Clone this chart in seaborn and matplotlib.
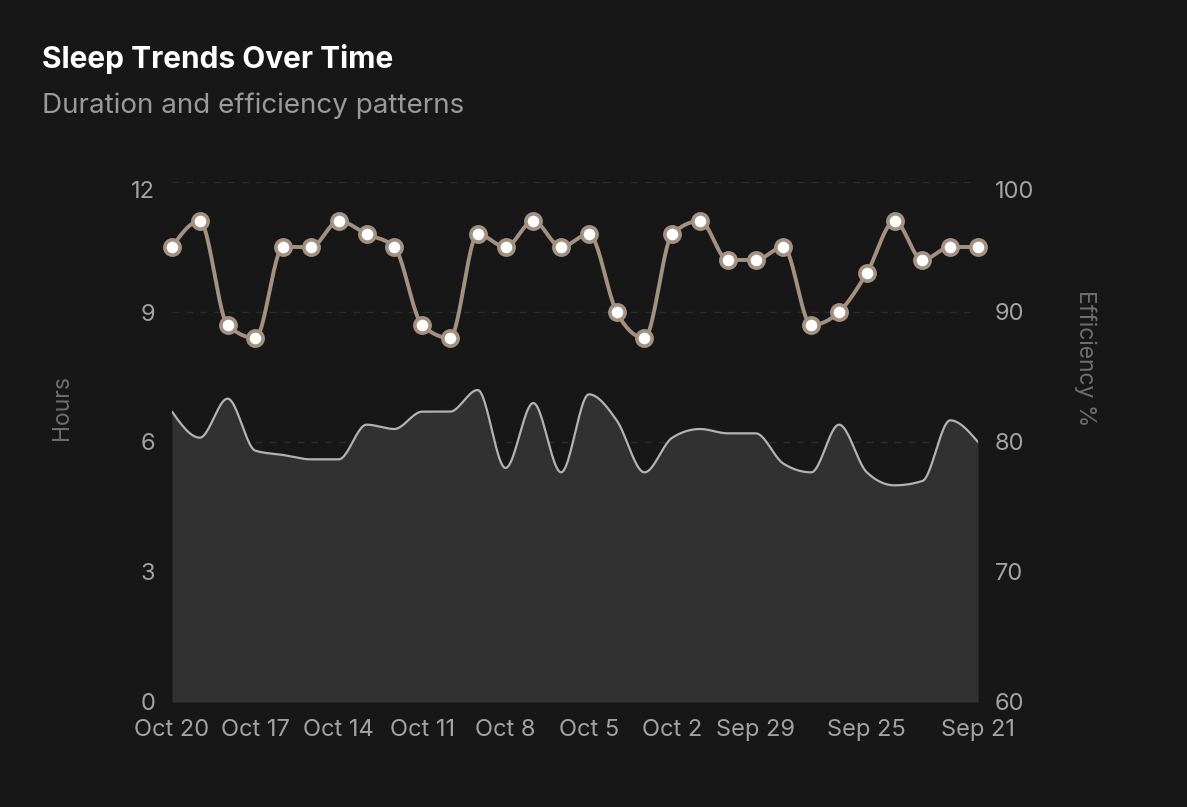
import numpy as np
import pandas as pd
import matplotlib
matplotlib.use("Agg")
import matplotlib.pyplot as plt
import matplotlib.transforms as mtrans
import seaborn as sns

# ---- data ----
dates = ["Oct 20", "Oct 19", "Oct 18", "Oct 17", "Oct 16", "Oct 15", "Oct 14", "Oct 13",
         "Oct 12", "Oct 11", "Oct 10", "Oct 9", "Oct 8", "Oct 7", "Oct 6", "Oct 5",
         "Oct 4", "Oct 3", "Oct 2", "Oct 1", "Sep 30", "Sep 29", "Sep 28", "Sep 27",
         "Sep 26", "Sep 25", "Sep 24", "Sep 23", "Sep 22", "Sep 21"]
hours = [6.7, 6.1, 7.0, 5.8, 5.7, 5.6, 5.6, 6.4, 6.3, 6.7,
         6.7, 7.2, 5.4, 6.9, 5.3, 7.1, 6.5, 5.3, 6.1, 6.3,
         6.2, 6.2, 5.5, 5.3, 6.4, 5.3, 5.0, 5.1, 6.5, 6.0]
efficiency = [95, 97, 89, 88, 95, 95, 97, 96, 95, 89,
              88, 96, 95, 97, 95, 96, 90, 88, 96, 97,
              94, 94, 95, 89, 90, 93, 97, 94, 95, 95]
tick_labels = ["Oct 20", "Oct 17", "Oct 14", "Oct 11", "Oct 8", "Oct 5",
               "Oct 2", "Sep 29", "Sep 25", "Sep 21"]
hour_ticks = [0, 3, 6, 9, 12]
eff_ticks = [60, 70, 80, 90, 100]


def monotone_curve(y, n=24):
    """Render-only smoothing path (d3 curveMonotoneX style) through the points."""
    y = np.asarray(y, float)
    x = np.arange(len(y), dtype=float)
    s = np.diff(y)
    m = np.zeros_like(y)
    for i in range(1, len(y) - 1):
        s0, s1 = s[i - 1], s[i]
        p = (s0 + s1) / 2
        m[i] = (np.sign(s0) + np.sign(s1)) * min(abs(s0), abs(s1), 0.5 * abs(p))
    m[0] = (3 * s[0] - m[1]) / 2
    m[-1] = (3 * s[-1] - m[-2]) / 2
    xs, ys = [], []
    for i in range(len(y) - 1):
        t = np.linspace(0, 1, n, endpoint=False)
        h00 = 2 * t**3 - 3 * t**2 + 1
        h10 = t**3 - 2 * t**2 + t
        h01 = -2 * t**3 + 3 * t**2
        h11 = t**3 - t**2
        xs.append(x[i] + t)
        ys.append(h00 * y[i] + h10 * m[i] + h01 * y[i + 1] + h11 * m[i + 1])
    xs.append([x[-1]])
    ys.append([y[-1]])
    return np.concatenate(xs), np.concatenate(ys)


BG = "#171717"
TICK = "#a3a3a3"
sns.set_theme(style="dark", rc={
    "figure.facecolor": BG, "axes.facecolor": BG, "savefig.facecolor": BG,
    "axes.edgecolor": BG, "text.color": TICK,
    "xtick.color": TICK, "ytick.color": TICK,
})
plt.rcParams["font.family"] = ["Inter", "DejaVu Sans"]

fig = plt.figure(figsize=(11.87, 8.07), dpi=100)
W, H = 1187, 807
L, R, T, B = 172, 978, 182, 702
ax = fig.add_axes([L / W, 1 - B / H, (R - L) / W, (B - T) / H])
ax2 = ax.twinx()

x = np.arange(len(dates))
hx, hy = monotone_curve(hours)
hdf = pd.DataFrame({"x": hx, "hours": hy})
ax.fill_between(hdf["x"], 0, hdf["hours"], color="#313131", linewidth=0, zorder=2)
sns.lineplot(data=hdf, x="x", y="hours", ax=ax, color="#b3b3b3", linewidth=1.6,
             zorder=3, estimator=None, sort=False)

ex, ey = monotone_curve(efficiency)
edf = pd.DataFrame({"x": ex, "eff": ey})
sns.lineplot(data=edf, x="x", y="eff", ax=ax2, color="#a39282", linewidth=2.8,
             zorder=4, estimator=None, sort=False)
pdf = pd.DataFrame({"x": x, "eff": efficiency})
sns.scatterplot(data=pdf, x="x", y="eff", ax=ax2, s=120, color="white",
                edgecolor="#a39282", linewidth=2.6, zorder=5, clip_on=False)

ax.set_xlim(0, len(dates) - 1)
ax.set_ylim(0, 12)
ax2.set_ylim(60, 100)
ax.set_yticks(hour_ticks)
ax2.set_yticks(eff_ticks)
ax.grid(axis="y", color="#2c2c2c", linestyle=(0, (5, 5)), linewidth=1, zorder=0)
ax.grid(axis="x", visible=False)
ax2.grid(False)

tick_pos = [dates.index(t) for t in tick_labels]
ax.set_xticks(tick_pos)
ax.set_xticklabels(tick_labels)
for a in (ax, ax2):
    a.tick_params(axis="both", length=0, labelsize=17, colors=TICK)
    for sp in a.spines.values():
        sp.set_visible(False)
ax.tick_params(axis="y", pad=12)
ax2.tick_params(axis="y", pad=12)
ax.tick_params(axis="x", pad=12)

# top tick labels sit slightly below their gridline
for a in (ax, ax2):
    lbl = a.get_yticklabels()[-1]
    lbl.set_transform(lbl.get_transform() + mtrans.ScaledTranslation(0, -8 / 100, fig.dpi_scale_trans))

ax.set_xlabel("")
ax.set_ylabel("")
ax2.set_ylabel("")
fig.text(62 / W, 1 - 408 / H, "Hours", color="#6e6e6e", fontsize=16.5,
         rotation=90, ha="center", va="center")
fig.text(1085 / W, 1 - 358 / H, "Efficiency %", color="#6e6e6e", fontsize=16.5,
         rotation=270, ha="center", va="center")
ax2.patch.set_visible(False)

fig.text(42 / W, 1 - 68 / H, "Sleep Trends Over Time", fontsize=21.5, fontweight="bold",
         color="white", ha="left", va="baseline")
fig.text(42 / W, 1 - 113 / H, "Duration and efficiency patterns", fontsize=20,
         color="#9a9a9a", ha="left", va="baseline")

fig.savefig("out.png", dpi=100, facecolor=BG)
